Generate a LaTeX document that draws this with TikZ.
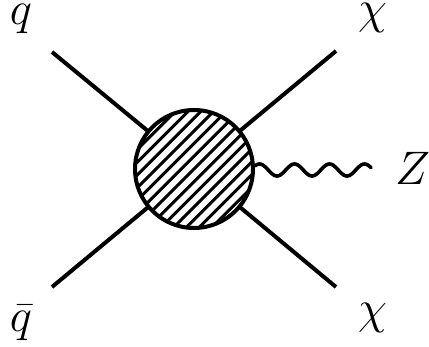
\RequirePackage{fix-cm}
\documentclass[tikz,border=0pt]{standalone}
\usetikzlibrary{calc}
\tikzset{
  leg/.style={line width=4pt},
  lab/.style={inner sep=0pt, anchor=base, font=\fontsize{47}{50}\selectfont},
}
\begin{document}
\begin{tikzpicture}[x=1pt,y=-1pt]
\useasboundingbox (0,0) rectangle (429,347);
\coordinate (qin) at (52,52);
\coordinate (qbin) at (52,287);
\coordinate (chi1) at (336,51);
\coordinate (chi2) at (336,287);
\coordinate (c) at (194,169);
\draw[leg] (qin) -- (c);
\draw[leg] (qbin) -- (c);
\draw[leg] (chi1) -- (c);
\draw[leg] (chi2) -- (c);
\fill[white] (c) circle[radius=59];
\begin{scope}
  \clip (c) circle[radius=59];
  \foreach \i in {-10,...,10} {
    \draw[line width=3pt] ($(c)+(\i*12.7-90,90)$) -- ($(c)+(\i*12.7+90,-90)$);
  }
\end{scope}
\node[circle, draw, line width=4pt, minimum size=118pt, inner sep=0pt] (blob) at (c) {};
\draw[line width=3.6pt, line cap=round] plot[domain=-4.5:111.5, samples=120, smooth] ({259.5+\x},{170-6*cos(\x*10.2857)});
\node[lab] (q) at (21,25) {$q$};
\node[lab] (qb) at (21,332) {$\bar{q}$};
\node[lab] (x1) at (372.5,24) {$\chi$};
\node[lab] (x2) at (372.5,324) {$\chi$};
\node[lab] (Z) at (412.5,185) {$Z$};
\end{tikzpicture}
\end{document}
